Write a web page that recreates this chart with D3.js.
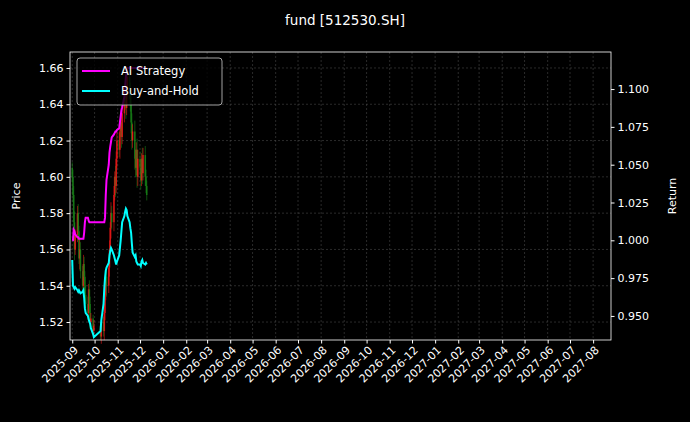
<!DOCTYPE html>
<html><head><meta charset="utf-8">
<script src="https://cdn.jsdelivr.net/npm/d3@7"></script>
<style>body{margin:0;background:#000;} text{font-family:"DejaVu Sans";}</style>
</head><body><div id="chart"></div>
<script>
// trading days: Sep 1 - Dec 10 2025 (Oct 1-8 holiday)
var days = d3.timeDay.range(new Date(2025, 8, 1), new Date(2025, 11, 11))
  .filter(function(d) { return d.getDay() % 6 !== 0 && !(d.getMonth() === 9 && d.getDate() <= 8); });

var close = [1.600,1.590,1.575,1.560,1.568,1.580,1.570,1.555,1.560,1.548,1.540,1.552,1.545,1.535,1.530,1.525,1.538,1.530,1.520,1.522,1.515,1.518,
  1.512,1.520,1.515,1.525,1.535,1.545,1.540,1.550,1.560,1.572,1.580,1.575,1.590,1.600,1.595,1.610,1.620,
  1.615,1.625,1.630,1.622,1.635,1.640,1.645,1.638,1.650,1.655,1.648,1.640,1.630,1.620,1.625,1.610,1.605,1.615,1.600,1.610,
  1.605,1.598,1.610,1.602,1.612,1.600,1.595,1.590];
var open = [1.605].concat(close.slice(0, -1));
var wick = [0.006,0.008,0.010,0.012,0.006,0.008,0.010,0.006,0.012,0.008,0.006,0.010,0.008,0.006,0.010,0.008,0.006,0.010,0.008,0.006,0.004,0.006,
  0.004,0.008,0.006,0.010,0.008,0.006,0.012,0.008,0.010,0.006,0.012,0.008,0.010,0.006,0.012,0.008,0.010,
  0.008,0.010,0.006,0.012,0.008,0.010,0.006,0.012,0.008,0.006,0.010,0.008,0.012,0.010,0.008,0.012,0.010,0.008,0.012,0.010,
  0.008,0.010,0.006,0.012,0.008,0.010,0.008,0.006];
var buyHold = [0.987,0.970,0.969,0.968,0.969,0.967,0.966,0.967,0.966,0.965,0.966,0.967,0.962,0.955,0.952,0.950,0.948,0.946,0.945,0.942,0.938,0.936,
  0.940,0.947,0.958,0.968,0.975,0.980,0.982,0.985,0.990,0.993,0.995,0.994,0.990,0.988,0.986,0.984,0.986,
  0.990,0.995,1.000,1.006,1.012,1.016,1.019,1.021,1.020,1.016,1.012,1.008,1.005,0.998,0.992,0.989,0.990,0.986,0.985,0.984,
  0.984,0.983,0.986,0.987,0.985,0.984,0.985,0.984];
var aiStrategy = [1.000,1.000,1.007,1.006,1.004,1.002,1.002,1.001,1.001,1.001,1.001,1.001,1.005,1.012,1.015,1.015,1.013,1.012,1.012,1.012,1.012,1.012,
  1.012,1.012,1.012,1.012,1.015,1.030,1.040,1.050,1.058,1.062,1.065,1.068,1.070,1.071,1.072,1.072,1.073,
  1.074,1.078,1.082,1.086,1.088,1.095,1.102,1.108,1.112,1.114,1.114,1.114,1.114,1.114,1.114,1.114,1.114,1.114,1.114,1.114,
  1.114,1.114,1.114,1.114,1.114,1.114,1.114,1.114];
var priceTicks = [1.52,1.54,1.56,1.58,1.60,1.62,1.64,1.66];
var returnTicks = [0.950,0.975,1.000,1.025,1.050,1.075,1.100];

var W = 690, H = 422, L = 70, R = 611, T = 52, B = 340;
var svg = d3.select("#chart").append("svg").attr("width", W).attr("height", H)
  .style("background", "#000");

var x = d3.scaleTime().domain([new Date(2025, 7, 29), new Date(2027, 7, 25)]).range([L, R]);
var yP = d3.scaleLinear().domain([1.5101, 1.6688]).range([B, T]);
var yR = d3.scaleLinear().domain([0.9341, 1.1245]).range([B, T]);
var months = d3.timeMonth.range(new Date(2025, 8, 1), new Date(2027, 7, 2));

// grid
var grid = svg.append("g").attr("stroke", "#555").attr("stroke-width", 0.5).attr("stroke-dasharray", "2,2");
months.forEach(function(m) { grid.append("line").attr("x1", x(m)).attr("x2", x(m)).attr("y1", T).attr("y2", B); });
priceTicks.forEach(function(v) { grid.append("line").attr("x1", L).attr("x2", R).attr("y1", yP(v)).attr("y2", yP(v)); });

// candles
var candles = svg.append("g");
days.forEach(function(d, i) {
  var col = close[i] >= open[i] ? "#ff1a1a" : "#1a8c1a";
  var hi = Math.max(open[i], close[i]) + wick[i] / 2, lo = Math.min(open[i], close[i]) - wick[i] / 2;
  candles.append("line").attr("x1", x(d)).attr("x2", x(d)).attr("y1", yP(hi)).attr("y2", yP(lo))
    .attr("stroke", col).attr("stroke-width", 0.8).attr("opacity", 0.7);
  candles.append("line").attr("x1", x(d)).attr("x2", x(d)).attr("y1", yP(open[i])).attr("y2", yP(close[i]))
    .attr("stroke", col).attr("stroke-width", 1.6).attr("opacity", 0.7);
});

var line = d3.line().x(function(d, i) { return x(days[i]); }).y(function(d) { return yR(d); });
svg.append("path").datum(buyHold).attr("d", line).attr("fill", "none").attr("stroke", "#00ffff").attr("stroke-width", 2);
svg.append("path").datum(aiStrategy).attr("d", line).attr("fill", "none").attr("stroke", "#ff00ff").attr("stroke-width", 2);

// axes
var ax = svg.append("g").attr("transform", "translate(0," + B + ")")
  .call(d3.axisBottom(x).tickValues(months).tickFormat(d3.timeFormat("%Y-%m")).tickSize(3.5));
ax.selectAll("text").attr("transform", "rotate(-45)").style("text-anchor", "end").attr("dx", "-0.3em").attr("dy", "0.5em");
var al = svg.append("g").attr("transform", "translate(" + L + ",0)")
  .call(d3.axisLeft(yP).tickValues(priceTicks).tickFormat(d3.format(".2f")).tickSize(3.5));
var ar = svg.append("g").attr("transform", "translate(" + R + ",0)")
  .call(d3.axisRight(yR).tickValues(returnTicks).tickFormat(d3.format(".3f")).tickSize(3.5));
[ax, al, ar].forEach(function(a) {
  a.select(".domain").remove();
  a.selectAll("line").attr("stroke", "#fff");
  a.selectAll("text").attr("fill", "#fff").style("font-size", "11px").style("font-family", "DejaVu Sans");
});
svg.append("rect").attr("x", L).attr("y", T).attr("width", R - L).attr("height", B - T)
  .attr("fill", "none").attr("stroke", "#fff").attr("stroke-width", 0.8);

svg.append("text").attr("x", 345).attr("y", 25).attr("text-anchor", "middle").attr("fill", "#fff")
  .style("font-size", "13.5px").text("fund [512530.SH]");
svg.append("text").attr("transform", "translate(20," + (T + B) / 2 + ") rotate(-90)").attr("text-anchor", "middle")
  .attr("fill", "#fff").style("font-size", "11px").text("Price");
svg.append("text").attr("transform", "translate(676," + (T + B) / 2 + ") rotate(-90)").attr("text-anchor", "middle")
  .attr("fill", "#fff").style("font-size", "11px").text("Return");

// legend
var lg = svg.append("g");
lg.append("rect").attr("x", 77).attr("y", 58).attr("width", 145).attr("height", 47).attr("rx", 3)
  .attr("fill", "#000").attr("fill-opacity", 0.8).attr("stroke", "#ccc").attr("stroke-width", 0.8);
[["AI Strategy", "#ff00ff"], ["Buy-and-Hold", "#00ffff"]].forEach(function(s, i) {
  var yy = 71 + i * 20;
  lg.append("line").attr("x1", 82).attr("x2", 110).attr("y1", yy).attr("y2", yy).attr("stroke", s[1]).attr("stroke-width", 2);
  lg.append("text").attr("x", 121).attr("y", yy + 4).attr("fill", "#fff").style("font-size", "11.5px").text(s[0]);
});
</script></body></html>
